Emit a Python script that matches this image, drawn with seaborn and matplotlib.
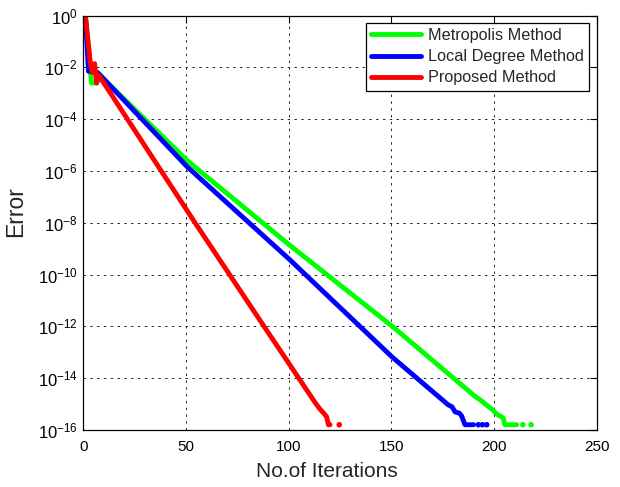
import numpy as np
import pandas as pd
import matplotlib
matplotlib.use("Agg")
import matplotlib.pyplot as plt
from matplotlib.lines import Line2D
from matplotlib.ticker import FixedLocator, NullLocator, LogFormatterSciNotation
import seaborn as sns

methods = ["Metropolis Method", "Local Degree Method", "Proposed Method"]
colors = ["#00ff00", "#0000ff", "#ff0000"]

# Metropolis Method (green)
metro_iter = [1, 4, 6.5, 8, 50.4, 100.3, 150.6, 190.7, 193.5, 196.5, 199, 201.5, 203.7, 204.5, 205.3, 211]
metro_err = [1.0, 2.5e-3, 2.5e-3, 5.0e-3, 2.6e-6, 1.4e-9, 9.8e-13, 2.0e-15, 1.4e-15,
             8.9e-16, 6.3e-16, 4.0e-16, 3.2e-16, 2.8e-16, 1.6e-16, 1.6e-16]
metro_dot_iter = [214, 218]
metro_dot_err = [1.6e-16, 1.6e-16]

# Local Degree Method (blue)
local_iter = [1, 2.5, 7, 50.4, 100.3, 150.6, 177.7, 179.5, 181, 183, 184.2, 185.8, 190]
local_err = [1.0, 7.1e-3, 6.3e-3, 1.5e-6, 3.9e-10, 6.3e-14, 9.3e-16, 7.9e-16, 5.0e-16,
             4.5e-16, 3.5e-16, 1.6e-16, 1.6e-16]
local_dot_iter = [192.3, 194.3, 196.4]
local_dot_err = [1.6e-16, 1.6e-16, 1.6e-16]

# Proposed Method (red)
prop_iter = [1, 3.5, 4.5, 5.5, 6.5, 7.5, 54.4, 88.9, 113, 115.3, 117, 118.5, 119.3, 120.1]
prop_err = [1.0, 1.3e-2, 6.3e-3, 1.4e-2, 2.5e-3, 5.0e-3, 1.0e-8, 7.8e-13, 1.1e-15,
            6.3e-16, 4.5e-16, 3.2e-16, 1.6e-16, 1.6e-16]
prop_dot_iter = [124.6]
prop_dot_err = [1.6e-16]

x_ticks = [0, 50, 100, 150, 200, 250]
y_ticks = [1e-16, 1e-14, 1e-12, 1e-10, 1e-8, 1e-6, 1e-4, 1e-2, 1e0]

lines_df = pd.concat([
    pd.DataFrame({"iter": metro_iter, "err": metro_err, "method": methods[0]}),
    pd.DataFrame({"iter": local_iter, "err": local_err, "method": methods[1]}),
    pd.DataFrame({"iter": prop_iter, "err": prop_err, "method": methods[2]}),
], ignore_index=True)
dots_df = pd.concat([
    pd.DataFrame({"iter": metro_dot_iter, "err": metro_dot_err, "method": methods[0]}),
    pd.DataFrame({"iter": local_dot_iter, "err": local_dot_err, "method": methods[1]}),
    pd.DataFrame({"iter": prop_dot_iter, "err": prop_dot_err, "method": methods[2]}),
], ignore_index=True)

sns.set_style("white")
plt.rcParams["font.family"] = ["Liberation Sans", "DejaVu Sans"]
plt.rcParams["mathtext.fontset"] = "custom"
plt.rcParams["mathtext.rm"] = "Liberation Sans"
plt.rcParams["mathtext.it"] = "Liberation Sans:italic"
plt.rcParams["mathtext.bf"] = "Liberation Sans:bold"

fig = plt.figure(figsize=(6.2, 4.87), dpi=100)
ax = fig.add_axes([0.1344, 0.117, 0.8282, 0.851])

pal = dict(zip(methods, colors))
sns.lineplot(data=lines_df, x="iter", y="err", hue="method", hue_order=methods,
             palette=pal, estimator=None, sort=False, linewidth=3.5, ax=ax,
             legend=False)
sns.scatterplot(data=dots_df, x="iter", y="err", hue="method", hue_order=methods,
                palette=pal, s=16, linewidth=0, ax=ax, legend=False, zorder=3)

ax.set_yscale("log")
ax.set_xlim(0, 250)
ax.set_ylim(1e-16, 1)
ax.xaxis.set_major_locator(FixedLocator(x_ticks))
ax.yaxis.set_major_locator(FixedLocator(y_ticks))
ax.yaxis.set_major_formatter(LogFormatterSciNotation())
ax.yaxis.set_minor_locator(NullLocator())
ax.xaxis.set_minor_locator(NullLocator())

ax.grid(True, which="major", color="0.15", linestyle=(0, (2.5, 4.5)), linewidth=0.7)
ax.set_axisbelow(True)
ax.tick_params(direction="in", top=True, right=True, length=5, width=0.8,
               colors="black")
ax.tick_params(axis="x", labelsize=11, pad=7)
ax.tick_params(axis="y", labelsize=12, pad=4)
for sp in ax.spines.values():
    sp.set_visible(True)
    sp.set_color("black")
    sp.set_linewidth(0.9)

ax.set_xlabel("No.of Iterations", fontsize=15)
ax.set_ylabel("Error", fontsize=16.5)
ax.xaxis.set_label_coords(0.474, -0.077)
ax.yaxis.set_label_coords(-0.109, 0.526)

handles = [Line2D([], [], color=c, linewidth=3.5) for c in colors]
leg = ax.legend(handles, methods, loc="upper right", fontsize=11.7, frameon=True,
                fancybox=False, shadow=False, handlelength=3.1, handletextpad=0.45,
                labelspacing=0.38, borderpad=0.32, borderaxespad=0.45)
leg.get_frame().set_edgecolor("black")
leg.get_frame().set_linewidth(0.9)
leg.get_frame().set_alpha(1)

fig.savefig("out.png", dpi=100)
